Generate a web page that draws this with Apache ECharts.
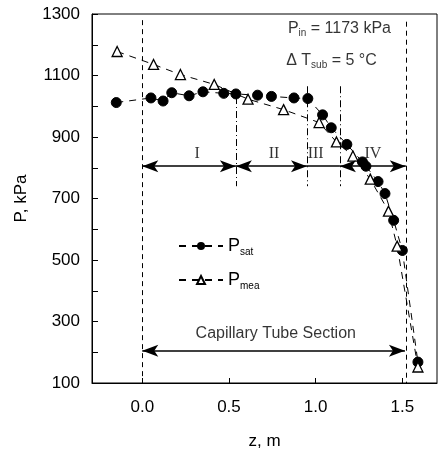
<!DOCTYPE html>
<html><head><meta charset="utf-8">
<script src="https://cdn.jsdelivr.net/npm/echarts@6/dist/echarts.min.js"></script>
<style>html,body{margin:0;padding:0;background:#fff}#c{width:441px;height:455px}</style>
</head><body><div id="c"></div>
<script>
// data
const satZ = [-0.15, 0.05, 0.12, 0.17, 0.27, 0.35, 0.47, 0.54, 0.665, 0.745, 0.875, 0.955, 1.04, 1.09, 1.18, 1.27, 1.29, 1.36, 1.40, 1.45, 1.50, 1.59];
const satP = [1012, 1027, 1017, 1044, 1034, 1047, 1042, 1040, 1036, 1032, 1027, 1025, 972, 930, 876, 819, 805, 755, 716, 629, 531, 168];
const meaZ = [-0.145, 0.065, 0.22, 0.415, 0.61, 0.815, 1.02, 1.12, 1.215, 1.315, 1.42, 1.47, 1.59];
const meaP = [1178, 1136, 1103, 1071, 1023, 989, 947, 884, 838, 763, 659, 545, 152];
const xTickValues = [0, 0.5, 1.0, 1.5];
const yLabelValues = [100, 300, 500, 700, 900, 1100, 1300];
const yTickValues = [100, 200, 300, 400, 500, 600, 700, 800, 900, 1000, 1100, 1200, 1300];
const regionBounds = [0, 0.54, 0.95, 1.14, 1.52];
const regionNames = ['I', 'II', 'III', 'IV'];
const regionLabelZ = [0.316, 0.76, 1.0, 1.33];
const regionArrowP = 805;
const regionLabelP = 846;
const tubeArrowP = 205;

const font = 'Liberation Sans, Arial, sans-serif';
const pair = (xs, ys) => xs.map((x, i) => [x, ys[i]]);
const subRich = {
  main: { fontSize: 16, fontFamily: font, color: '#000' },
  sub: { fontSize: 10, fontFamily: font, color: '#000', padding: [9, 0, 0, 0] }
};

// vertical region boundary lines
const vLines = [
  [{ coord: [regionBounds[0], 1280], lineStyle: { type: [5, 4] } }, { coord: [regionBounds[0], 100] }],
  [{ coord: [regionBounds[1], 1030], lineStyle: { type: [7, 3, 1, 3] } }, { coord: [regionBounds[1], 740] }],
  [{ coord: [regionBounds[2], 1065], lineStyle: { type: [7, 3, 1, 3] } }, { coord: [regionBounds[2], 740] }],
  [{ coord: [regionBounds[3], 1065], lineStyle: { type: [7, 3, 1, 3] } }, { coord: [regionBounds[3], 740] }],
  [{ coord: [regionBounds[4], 1275], lineStyle: { type: [5, 4] } }, { coord: [regionBounds[4], 100] }]
];
const arrows = [
  [{ coord: [regionBounds[0], regionArrowP], symbol: 'arrow' }, { coord: [regionBounds[1], regionArrowP], symbol: 'arrow' }],
  [{ coord: [regionBounds[1], regionArrowP], symbol: 'arrow' }, { coord: [regionBounds[2], regionArrowP], symbol: 'arrow' }],
  [{ coord: [regionBounds[2], regionArrowP], symbol: 'none' }, { coord: [regionBounds[3], regionArrowP], symbol: 'none' }],
  [{ coord: [regionBounds[3], regionArrowP], symbol: 'arrow' }, { coord: [regionBounds[4], regionArrowP], symbol: 'arrow' }],
  [{ coord: [regionBounds[0], tubeArrowP], symbol: 'arrow' }, { coord: [1.515, tubeArrowP], symbol: 'arrow' }]
];

const textPts = [
  { value: [0.84, 1253], label: { formatter: '{main|P}{sub|in}{main| = 1173 kPa}', align: 'left' } },
  { value: [0.83, 1149], label: { formatter: '{main|\u0394 T}{sub|sub}{main| = 5 \u00B0C}', align: 'left' } },
  { value: [0.77, 262], label: { formatter: '{main|Capillary Tube Section}', align: 'center' } }
].concat(regionNames.map((n, i) => ({
  value: [regionLabelZ[i], regionLabelP],
  label: { formatter: n, align: 'center', fontFamily: 'Liberation Serif, Times New Roman, serif', fontSize: 16 }
})));

const chart = echarts.init(document.getElementById('c'), null, { renderer: 'canvas' });
chart.setOption({
  animation: false,
  backgroundColor: '#fff',
  grid: { left: 92, right: 4, top: 14, bottom: 70, show: true, borderColor: '#000', borderWidth: 1 },
  xAxis: {
    type: 'value', min: -0.29, max: 1.7,
    name: 'z, m', nameLocation: 'middle', nameGap: 50,
    nameTextStyle: { fontSize: 17, fontFamily: font, color: '#000' },
    axisLine: { show: true, onZero: false, lineStyle: { color: '#000' } },
    axisTick: { show: true, inside: true, length: 5, customValues: xTickValues, lineStyle: { color: '#000' } },
    axisLabel: { customValues: xTickValues, margin: 16, fontSize: 17, fontFamily: font, color: '#000',
      formatter: v => v.toFixed(1) },
    splitLine: { show: false }
  },
  yAxis: {
    type: 'value', min: 100, max: 1300,
    name: 'P, kPa', nameLocation: 'middle', nameGap: 62,
    nameTextStyle: { fontSize: 17, fontFamily: font, color: '#000' },
    axisLine: { show: true, onZero: false, lineStyle: { color: '#000' } },
    axisTick: { show: true, inside: true, length: 6, customValues: yTickValues, lineStyle: { color: '#000' } },
    axisLabel: { customValues: yLabelValues, margin: 12, fontSize: 17, fontFamily: font, color: '#000',
      formatter: v => String(v) },
    splitLine: { show: false }
  },
  legend: {
    orient: 'vertical', left: 173, top: 232, itemGap: 14,
    itemWidth: 44, itemHeight: 10,
    data: ['sat', 'mea'],
    formatter: n => '{main|P}{sub|' + n + '}',
    textStyle: { rich: {
      main: { fontSize: 18, fontFamily: font, color: '#000' },
      sub: { fontSize: 10, fontFamily: font, color: '#000', padding: [12, 0, 0, 0] } } }
  },
  series: [
    {
      name: 'sat', type: 'line', data: pair(satZ, satP),
      symbol: 'circle', symbolSize: 10,
      itemStyle: { color: '#000', borderColor: '#000' },
      lineStyle: { color: '#000', width: 1, type: [7, 6] },
      z: 3
    },
    {
      name: 'mea', type: 'line', data: pair(meaZ, meaP),
      symbol: 'triangle', symbolSize: 10,
      itemStyle: { color: '#fff', borderColor: '#000', borderWidth: 1.3 },
      lineStyle: { color: '#000', width: 1, type: [7, 6] },
      z: 4
    },
    {
      name: 'guides', type: 'line', data: [], silent: true,
      markLine: { silent: true, symbol: 'none', label: { show: false },
        lineStyle: { color: '#000', width: 1 }, data: vLines }
    },
    {
      name: 'arrows', type: 'line', data: [], silent: true,
      markLine: { silent: true, symbolSize: [9, 16], label: { show: false },
        lineStyle: { color: '#000', width: 1.5, type: 'solid' }, data: arrows }
    },
    {
      name: 'text', type: 'scatter', symbolSize: 0, silent: true, data: textPts,
      label: { show: true, position: 'inside', color: '#000', fontFamily: font, fontSize: 16, rich: subRich }
    }
  ]
});
</script></body></html>
